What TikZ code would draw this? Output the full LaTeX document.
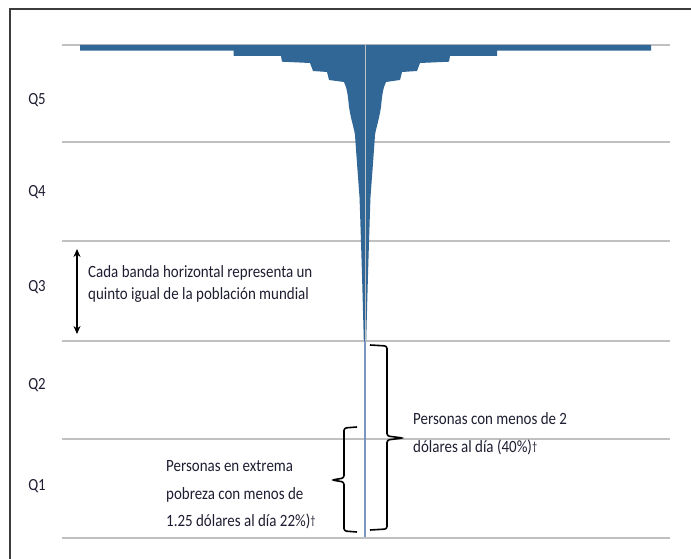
\documentclass[tikz,border=0pt]{standalone}
\usepackage{fontspec}
\setmainfont{Carlito}
\newfontfamily\calib[FakeStretch=0.87]{Carlito}
\usetikzlibrary{arrows.meta}
\definecolor{barblue}{RGB}{49,103,150}
\definecolor{thinblue}{RGB}{120,150,190}
\definecolor{gridgray}{RGB}{192,192,192}
\definecolor{framegray}{RGB}{60,60,60}
\definecolor{txt}{RGB}{30,30,50}
\tikzset{
  gridline/.style={draw=gridgray, line width=1.5pt},
  qlabel/.style={font=\calib\fontsize{17}{19}\selectfont, text=txt, inner sep=0pt},
  note/.style={font=\calib\fontsize{17.2}{22}\selectfont, text=txt, inner sep=0pt, anchor=west, align=left},
  bracepath/.style={draw=black, line width=1.6pt, rounded corners=2.5pt},
}
\newcommand{\dg}{\raisebox{0.25ex}{\fontsize{12}{12}\selectfont †}}
\begin{document}
\begin{tikzpicture}[x=1pt,y=-1pt]
\useasboundingbox (0,0) rectangle (691,559);
\fill[white] (0,0) rectangle (691,559);
% frame (left and top edges)
\draw[framegray, line width=2pt] (10,559) -- (10,9) -- (691,9);
% gridlines
\foreach \yy in {45,142,241,341,439,538}
  \draw[gridline] (62,\yy) -- (670,\yy);
% funnel
\fill[barblue] (80,45) -- (651,45) -- (651,50.7)
  -- (497,50.7) -- (497,56) -- (450,56) -- (449,61.7) -- (420,63) -- (417,71) -- (402,72) -- (400,80) -- (386,82)
  .. controls (383,88) and (382,96) .. (381,107)
  .. controls (379,120) and (376,128) .. (375,135)
  .. controls (374,150) and (372.5,170) .. (370.5,197)
  .. controls (369,240) and (367.5,290) .. (366.2,341)
  -- (363.8,341)
  .. controls (362.5,290) and (361,240) .. (359.5,197)
  .. controls (357.5,170) and (356,150) .. (355,135)
  .. controls (354,128) and (351,120) .. (349,107)
  .. controls (348,96) and (347,88) .. (344,82)
  -- (329,80) -- (327,72) -- (313,71) -- (310,63) -- (282,61.7) -- (281,56) -- (233.5,56) -- (233.5,50.7)
  -- (80,50.7) -- cycle;
% thin line below and centre line
\draw[thinblue, line width=1.6pt] (365,341) -- (365,537);
\draw[gridgray, line width=0.7pt] (365,45) -- (365,341);
% quintile labels
\node[qlabel] (q5) at (37,100) {Q5};
\node[qlabel] (q4) at (37,192) {Q4};
\node[qlabel] (q3) at (37,287) {Q3};
\node[qlabel] (q2) at (37,385) {Q2};
\node[qlabel] (q1) at (37,486) {Q1};
% band arrow and note
\coordinate (atop) at (77,249);
\coordinate (abot) at (77,334);
\draw[black, line width=1.5pt, {Stealth[length=8pt,width=7pt]}-{Stealth[length=8pt,width=7pt]}] (atop) -- (abot);
\node[note] (band) at (88,284) {Cada banda horizontal representa un\\quinto igual de la población mundial};
% braces
\coordinate (lbtop) at (357,427);
\coordinate (lbtip) at (332,480);
\coordinate (lbbot) at (357,532);
\draw[bracepath] (lbtop) -- (344,428) -- (344,478) -- (lbtip) -- (344,482) -- (344,531) -- (lbbot);
\coordinate (rbtop) at (370,345);
\coordinate (rbtip) at (403,438);
\coordinate (rbbot) at (370,530);
\draw[bracepath] (rbtop) -- (387,346) -- (387,436) -- (rbtip) -- (387,440) -- (387,529) -- (rbbot);
% poverty notes
\node[note, font=\calib\fontsize{17.2}{27.5}\selectfont] (extreme) at (166,495) {Personas en extrema\\pobreza con menos de\\1.25 dólares al día 22\%)\dg};
\node[note, font=\calib\fontsize{17.2}{28}\selectfont] (two) at (413,434) {Personas con menos de 2\\dólares al día (40\%)\dg};
\end{tikzpicture}
\end{document}
